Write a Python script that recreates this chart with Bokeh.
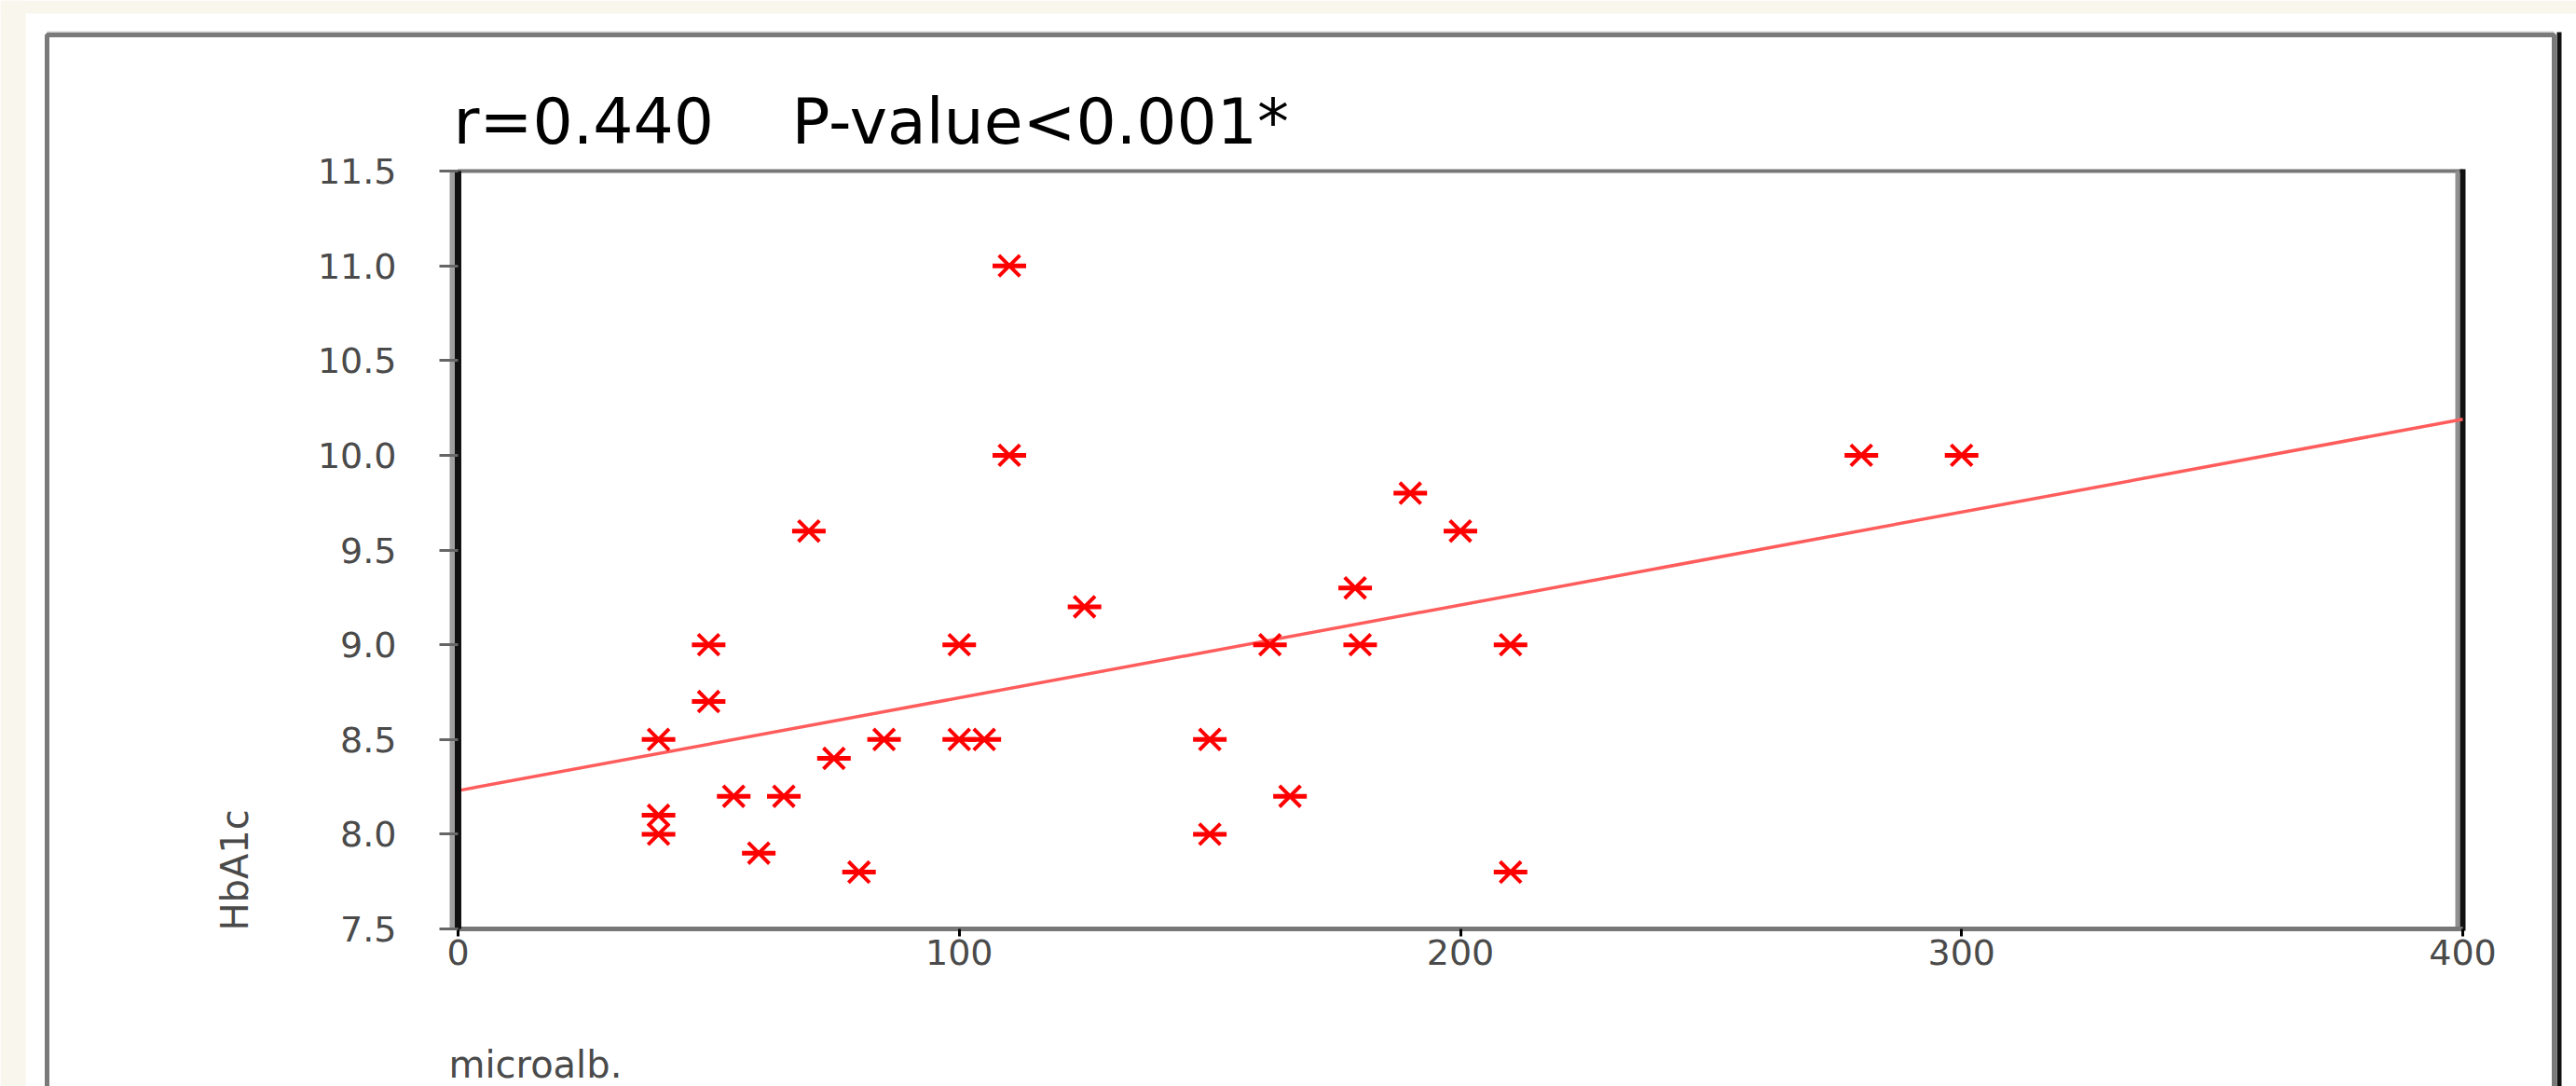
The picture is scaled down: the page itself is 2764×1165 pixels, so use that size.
import math
from bokeh.plotting import figure
from bokeh.models import Range1d, FixedTicker, LinearAxis, Label, BoxAnnotation, PrintfTickFormatter
from bokeh.embed import file_html
from bokeh.resources import INLINE

# ---- data ----
microalb = [110, 110, 70, 50, 50, 40, 40, 40, 55, 65, 60, 75, 85, 80, 100,
            100, 105, 125, 150, 150, 166, 162, 179, 180, 190, 200, 210, 210, 280, 300]
hba1c = [11.0, 10.0, 9.6, 9.0, 8.7, 8.5, 8.1, 8.0, 8.2, 8.2, 7.9, 8.4, 8.5, 7.8, 9.0,
         8.5, 8.5, 9.2, 8.5, 8.0, 8.2, 9.0, 9.3, 9.0, 9.8, 9.6, 9.0, 7.8, 10.0, 10.0]
fit_x = [0, 400]
fit_y = [8.23, 10.19]
x_ticks = [0, 100, 200, 300, 400]
y_ticks = [7.5, 8.0, 8.5, 9.0, 9.5, 10.0, 10.5, 11.0, 11.5]
title_r = "r=0.440"
title_p = "P-value<0.001*"
x_title = "microalb."
y_title = "HbA1c"

FONT = "DejaVu Sans"
GRAY_TXT = "#4a4a4a"

# ---- layout (pixels on the canvas) ----
W, H = 2764, 1165
FX0, FX1, FY0, FY1 = 491, 2642, 183, 996   # plot box: left, right, top, bottom
X0, X1 = x_ticks[0], x_ticks[-1]
Y0, Y1 = y_ticks[0], y_ticks[-1]
kx = (FX1 - FX0) / (X1 - X0)
ky = (FY1 - FY0) / (Y1 - Y0)
x_range = Range1d(X0 - FX0 / kx, X1 + (W - FX1) / kx)
y_range = Range1d(Y0 - (H - FY1) / ky, Y1 + FY0 / ky)

p = figure(width=W, height=H, x_range=x_range, y_range=y_range,
           x_axis_type=None, y_axis_type=None,
           output_backend="svg", toolbar_location=None,
           min_border=0, min_border_left=0, min_border_right=0, min_border_top=0, min_border_bottom=0)
p.border_fill_color = "white"
p.background_fill_color = "white"
p.outline_line_color = None
p.grid.visible = False


def scr(**kw):
    d = {}
    for k, v in kw.items():
        d[k] = v
        d[k + "_units"] = "screen"
    return d


def box(left, right, top_py, bottom_py, **style):
    return BoxAnnotation(**scr(left=left, right=right, top=H - top_py, bottom=H - bottom_py), **style)


cream = "#f9f6ee"
# page background strips
p.add_layout(box(0, W, 0, 14, fill_color=cream, fill_alpha=1, line_color=None, level="underlay"))
p.add_layout(box(0, 27, 0, H, fill_color=cream, fill_alpha=1, line_color=None, level="underlay"))
# outer panel frame
p.add_layout(box(50, 2740, 33, 35, fill_color="#cfcfcf", fill_alpha=1, line_color=None, level="underlay"))
p.add_layout(box(50, 2740, 37, H + 60, fill_color=None, fill_alpha=0,
                 line_color="#7a7a7a", line_width=5, line_alpha=1, level="underlay"))
p.add_layout(box(2743, 2748, 34, H + 60, fill_color="#111111", fill_alpha=1, line_color=None, level="underlay"))

# plot box outline (grey top/bottom) and shadows
p.add_layout(BoxAnnotation(left=X0, right=X1, bottom=Y0, top=Y1, fill_color=None, fill_alpha=0,
                           line_color="#777777", line_width=4, line_alpha=1, level="underlay"))
p.add_layout(box(482, 488, FY0, FY1, fill_color="#a0a0a0", fill_alpha=1, line_color=None, level="underlay"))
p.add_layout(box(2634, 2639, FY0, FY1, fill_color="#909090", fill_alpha=1, line_color=None, level="underlay"))
p.add_layout(box(2639, 2645, FY0 - 2, FY1 + 2, fill_color="#111111", fill_alpha=1, line_color=None, level="underlay"))

# axes
xa = LinearAxis(fixed_location=Y0, bounds=(X0, X1), ticker=FixedTicker(ticks=x_ticks))
xa.axis_line_color = "#777777"
xa.axis_line_width = 5
xa.major_tick_line_color = "black"
xa.major_tick_line_width = 3
xa.major_tick_in = 0
xa.major_tick_out = 8
xa.minor_tick_line_color = None
xa.major_label_text_font = FONT
xa.major_label_text_font_size = "38px"
xa.major_label_text_color = GRAY_TXT
xa.major_label_standoff = 3
p.add_layout(xa, "below")

ya = LinearAxis(fixed_location=X0, bounds=(Y0, Y1), ticker=FixedTicker(ticks=y_ticks),
                formatter=PrintfTickFormatter(format="%.1f"))
ya.axis_line_color = "#111111"
ya.axis_line_width = 7
ya.major_tick_line_color = "#666666"
ya.major_tick_line_width = 3
ya.major_tick_in = 0
ya.major_tick_out = 20
ya.minor_tick_line_color = None
ya.major_label_text_font = FONT
ya.major_label_text_font_size = "38px"
ya.major_label_text_color = GRAY_TXT
ya.major_label_standoff = 46
p.add_layout(ya, "left")

# regression line
p.line(fit_x, fit_y, line_color="#ff5c5c", line_width=3.5)

# markers: x with a horizontal bar
p.scatter(microalb, hba1c, marker="x", size=32, line_color="#ff0000", line_width=4)
p.scatter(microalb, hba1c, marker="dash", size=36, line_color="#ff0000", line_width=5)

# texts
p.add_layout(Label(**scr(x=486, y=H - 130), text=title_r,
                   text_font=FONT, text_font_size="68px", text_color="black",
                   text_align="left", text_baseline="alphabetic"))
p.add_layout(Label(**scr(x=849, y=H - 130), text=title_p,
                   text_font=FONT, text_font_size="68px", text_color="black",
                   text_align="left", text_baseline="alphabetic"))
p.add_layout(Label(**scr(x=481, y=H - 1141), text=x_title,
                   text_font=FONT, text_font_size="40px", text_color=GRAY_TXT,
                   text_align="left", text_baseline="alphabetic"))
p.add_layout(Label(**scr(x=251, y=H - 998), text=y_title,
                   angle=math.pi / 2, text_font=FONT, text_font_size="40px", text_color=GRAY_TXT,
                   text_align="left", text_baseline="alphabetic"))

open("out.html", "w").write(file_html(p, INLINE))
